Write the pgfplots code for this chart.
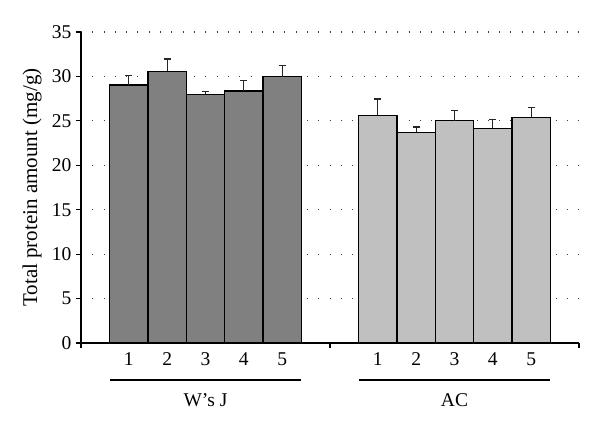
\documentclass[border=0pt]{standalone}
\usepackage{fontspec}
\setmainfont{Liberation Serif}
\usepackage{pgfplots}
\pgfplotsset{compat=1.18}
\definecolor{darkbar}{HTML}{808080}
\definecolor{lightbar}{HTML}{C0C0C0}
\begin{document}
\begin{tikzpicture}[x=1pt,y=1pt]
\useasboundingbox (0,0) rectangle (600,434);
\begin{axis}[
    at={(81pt,91pt)}, anchor=origin,
    scale only axis,
    width=498pt, height=311pt,
    xmin=0, xmax=2, ymin=0, ymax=35,
    axis x line=bottom, axis y line=left,
    axis line style={-, line width=1.2pt, black},
    xtick={0,1,2}, xticklabels={},
    ytick={0,5,...,35},
    tick align=outside,
    major tick length=5pt,
    tick style={line width=1.2pt, black},
    extra x ticks={0.192,0.346,0.5,0.654,0.808,1.192,1.346,1.5,1.654,1.808},
    extra x tick labels={1,2,3,4,5,1,2,3,4,5},
    extra x tick style={major tick length=0pt, tick label style={yshift=-6pt}},
    ymajorgrids=true,
    grid style={line width=1.1pt, dash pattern=on 1pt off 10.3pt, black!75},
    every tick label/.append style={font=\fontsize{19.5}{22}\selectfont},
    yticklabel style={xshift=-1pt},
    /pgf/number format/assume math mode=true,
    ylabel={Total protein amount (mg/g)},
    ylabel style={font=\fontsize{21}{24}\selectfont, at={(axis description cs:-0.098,0.5)}, anchor=center},
    clip=false,
]
\addplot[ybar, bar width=0.154, bar shift=0pt, fill=darkbar, draw=black, line width=1.2pt,
    error bars/.cd, y dir=plus, y explicit,
    error bar style={line width=1.2pt, black!85},
    error mark options={rotate=90, mark size=3.5pt, line width=1.2pt, black!85}]
coordinates {
    (0.192,29.03) +- (0,1.05)
    (0.346,30.57) +- (0,1.39)
    (0.500,28.00) +- (0,0.30)
    (0.654,28.36) +- (0,1.14)
    (0.808,29.97) +- (0,1.23)
};
\addplot[ybar, bar width=0.154, bar shift=0pt, fill=lightbar, draw=black, line width=1.2pt,
    error bars/.cd, y dir=plus, y explicit,
    error bar style={line width=1.2pt, black!85},
    error mark options={rotate=90, mark size=3.5pt, line width=1.2pt, black!85}]
coordinates {
    (1.192,25.62) +- (0,1.84)
    (1.346,23.71) +- (0,0.60)
    (1.500,25.02) +- (0,1.12)
    (1.654,24.16) +- (0,0.99)
    (1.808,25.40) +- (0,1.08)
};
\draw[line width=1.2pt] ([yshift=-37pt]axis cs:0.1165,0) -- ([yshift=-37pt]axis cs:0.8835,0);
\draw[line width=1.2pt] ([yshift=-37pt]axis cs:1.1165,0) -- ([yshift=-37pt]axis cs:1.8835,0);
\node[font=\fontsize{19.5}{22}\selectfont] at ([yshift=-57pt]axis cs:0.5,0) {W’s J};
\node[font=\fontsize{19.5}{22}\selectfont] at ([yshift=-57pt]axis cs:1.5,0) {AC};
\end{axis}
\end{tikzpicture}
\end{document}
